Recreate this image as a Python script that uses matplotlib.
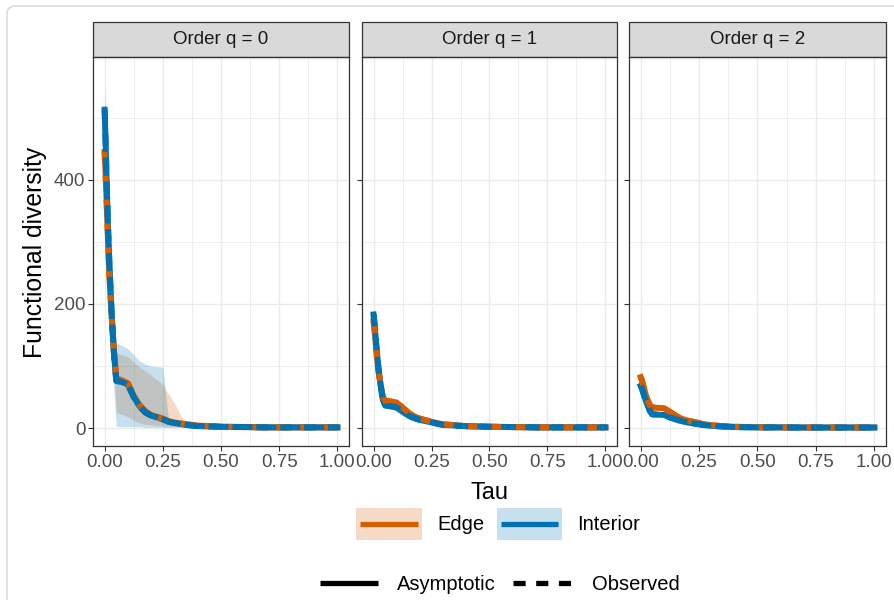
import matplotlib
matplotlib.use('Agg')  # no display in the sandbox

import matplotlib.pyplot as plt
from matplotlib.patches import Rectangle, FancyBboxPatch
from matplotlib.lines import Line2D

plt.rcParams['font.family'] = ['Liberation Sans', 'DejaVu Sans']

# ---- data ----
tau = [0, 0.005, 0.01, 0.015, 0.02, 0.03, 0.04, 0.05, 0.075, 0.1, 0.125, 0.15,
       0.175, 0.2, 0.25, 0.275, 0.3, 0.35, 0.4, 0.5, 0.6, 0.7, 0.8, 0.9, 1.0]
orders = ['Order q = 0', 'Order q = 1', 'Order q = 2']

# q = 0
edge_q0 = [445, 400, 350, 300, 250, 180, 125, 80, 77, 72, 52, 37, 27, 21, 15, 11, 9, 6, 4, 2, 1.5, 1, 1, 1, 1]
edge_q0_lo = [400, 350, 300, 250, 200, 140, 90, 25, 22, 18, 12, 8, 6, 5, 3, 2, 2, 2, 1, 1, 1, 1, 1, 1, 1]
edge_q0_hi = [490, 450, 400, 350, 300, 220, 160, 121, 118, 115, 106, 98, 92, 85, 70, 55, 40, 4, 4, 3, 2, 2, 2, 2, 2]
int_q0 = [513, 450, 380, 320, 270, 185, 120, 76, 74, 70, 50, 35, 25, 20, 14, 10, 8, 5, 3, 2, 1.5, 1, 1, 1, 1]
int_q0_lo = [480, 410, 330, 270, 220, 130, 60, 3, 2, 2, 2, 2, 1, 1, 1, 1, 1, 1, 1, 1, 1, 1, 1, 1, 1]
int_q0_hi = [548, 500, 430, 370, 320, 240, 180, 137, 133, 128, 118, 108, 103, 100, 98, 12, 10, 7, 5, 3, 2, 2, 2, 2, 2]

# q = 1
edge_q1 = [172, 155, 133, 113, 95, 70, 50, 44, 43, 41, 33, 25, 19, 15, 10, 8, 6, 4.5, 3, 2, 1.5, 1, 1, 1, 1]
edge_q1_lo = [160, 145, 124, 105, 88, 64, 45, 40, 39, 37, 30, 22, 17, 13, 9, 7, 5, 4, 2.5, 1.5, 1, 0.8, 0.8, 0.8, 0.8]
edge_q1_hi = [185, 166, 142, 121, 102, 76, 55, 48, 47, 45, 36, 28, 21, 17, 11, 9, 7, 5, 3.5, 2.5, 2, 1.2, 1.2, 1.2, 1.2]
int_q1 = [183, 165, 140, 120, 100, 70, 45, 36, 35, 33, 26, 20, 16, 13, 9, 7, 5, 4, 3, 2, 1.5, 1, 1, 1, 1]
int_q1_lo = [172, 155, 131, 112, 93, 64, 41, 33, 32, 30, 23, 18, 14, 11, 8, 6, 4.5, 3.5, 2.5, 1.5, 1, 0.8, 0.8, 0.8, 0.8]
int_q1_hi = [195, 176, 149, 128, 107, 76, 49, 39, 38, 36, 29, 22, 18, 15, 10, 8, 5.5, 4.5, 3.5, 2.5, 2, 1.2, 1.2, 1.2, 1.2]

# q = 2
edge_q2 = [82, 77, 70, 63, 56, 45, 36, 33, 32.5, 32, 26, 20, 15, 12, 8, 6, 4.5, 3, 2, 1.2, 1, 0.8, 0.8, 0.8, 0.8]
edge_q2_lo = [76, 71, 65, 58, 52, 41, 33, 30, 29.5, 29, 23, 18, 13, 10.5, 7, 5, 4, 2.5, 1.6, 1, 0.8, 0.6, 0.6, 0.6, 0.6]
edge_q2_hi = [88, 83, 75, 68, 60, 49, 39, 36, 35.5, 35, 29, 22, 17, 13.5, 9, 7, 5, 3.5, 2.4, 1.4, 1.2, 1, 1, 1, 1]
int_q2 = [68, 64, 58, 52, 46, 36, 27, 22, 21.5, 21, 17, 14, 11, 9, 6, 4.5, 3.5, 2.5, 1.5, 1, 1, 0.8, 0.8, 0.8, 0.8]
int_q2_lo = [63, 59, 54, 48, 42, 33, 24.5, 20, 19.5, 19, 15, 12.5, 10, 8, 5.3, 4, 3, 2.2, 1.2, 0.8, 0.8, 0.6, 0.6, 0.6, 0.6]
int_q2_hi = [73, 69, 62, 56, 50, 39, 29.5, 24, 23.5, 23, 19, 15.5, 12, 10, 6.7, 5, 4, 2.8, 1.8, 1.2, 1.2, 1, 1, 1, 1]

edge = [(edge_q0, edge_q0_lo, edge_q0_hi), (edge_q1, edge_q1_lo, edge_q1_hi), (edge_q2, edge_q2_lo, edge_q2_hi)]
interior = [(int_q0, int_q0_lo, int_q0_hi), (int_q1, int_q1_lo, int_q1_hi), (int_q2, int_q2_lo, int_q2_hi)]

ORANGE = '#D55E00'
BLUE = '#0072B2'
GRID = '#EBEBEB'
DARK = '#333333'
TICKTXT = '#4D4D4D'

W, H = 895, 600
fig = plt.figure(figsize=(W / 100, H / 100), dpi=100)


def fx(px):
    return px / W


def fy(py):
    return 1 - py / H


# light card border around the whole picture (kept behind everything)
card = FancyBboxPatch((0.07, -0.3), 9.5, 5.94 + 0.3, boxstyle='round,pad=0,rounding_size=0.08',
                      transform=fig.dpi_scale_trans, facecolor='white', edgecolor='#D4D4D4',
                      lw=1.0, zorder=-10)
fig.add_artist(card)

panels = [(93, 349), (362, 617), (629, 886)]
top, bottom = 57, 446
strip_top = 22
lw = 4.3

for i, (l, r) in enumerate(panels):
    ax = fig.add_axes([fx(l), fy(bottom), (r - l) / W, (bottom - top) / H])
    ax.set_xlim(-0.05, 1.05)
    ax.set_ylim(-29, 598)
    ax.set_xticks([0, 0.25, 0.5, 0.75, 1.0])
    ax.set_xticks([0.125, 0.375, 0.625, 0.875], minor=True)
    ax.set_yticks([0, 200, 400])
    ax.set_yticks([100, 300, 500], minor=True)
    ax.set_xticklabels(['0.00', '0.25', '0.50', '0.75', '1.00'])
    ax.grid(True, which='major', color=GRID, lw=1.0)
    ax.grid(True, which='minor', color=GRID, lw=0.6)
    ax.set_axisbelow(True)
    ax.tick_params(which='major', length=3.5, width=0.8, color=DARK, labelcolor=TICKTXT,
                   labelsize=13.5, pad=2)
    ax.tick_params(which='minor', length=0)
    if i > 0:
        ax.tick_params(axis='y', labelleft=False)
    for s in ax.spines.values():
        s.set_color(DARK)
        s.set_linewidth(0.9)

    e, e_lo, e_hi = edge[i]
    n, n_lo, n_hi = interior[i]
    ax.fill_between(tau, e_lo, e_hi, color=ORANGE, alpha=0.22, lw=0)
    ax.fill_between(tau, n_lo, n_hi, color=BLUE, alpha=0.22, lw=0)
    # asymptotic (solid) then observed (dashed) on top
    ax.plot(tau, e, color=ORANGE, lw=lw, solid_joinstyle='round')
    ax.plot(tau, n, color=BLUE, lw=lw, solid_joinstyle='round')
    ax.plot(tau, e, color=ORANGE, lw=lw, linestyle=(0, (2, 2)), dash_capstyle='butt')
    ax.plot(tau, n, color=BLUE, lw=lw, linestyle=(0, (2, 2)), dash_capstyle='butt')

    # facet strip
    sh = (top - strip_top) / (bottom - top)
    ax.add_patch(Rectangle((0, 1), 1, sh, transform=ax.transAxes, clip_on=False,
                           facecolor='#D9D9D9', edgecolor=DARK, lw=0.9))
    ax.text(0.5, 1 + sh / 2, orders[i], transform=ax.transAxes, ha='center', va='center',
            fontsize=13.5, color='#1A1A1A')

fig.text(fx(35), fy(252), 'Functional diversity', rotation=90, ha='center', va='center',
         fontsize=17.8, color='black')
fig.text(fx(490), fy(493), 'Tau', ha='center', va='center', fontsize=17, color='black')

# legend row 1: colour / fill
for (x0, x1, col, lab) in [(356, 422, ORANGE, 'Edge'), (497, 562, BLUE, 'Interior')]:
    fig.add_artist(Rectangle((fx(x0), fy(540)), (x1 - x0) / W, 32 / H, transform=fig.transFigure,
                             facecolor=col, alpha=0.22, lw=0))
    fig.add_artist(Line2D([fx(x0 + 4), fx(x1 - 4)], [fy(524), fy(524)], transform=fig.transFigure,
                          color=col, lw=3.8, solid_capstyle='butt'))
    fig.text(fx(x1 + 15), fy(525), lab, ha='left', va='center', fontsize=14.5, color='black')

# legend row 2: line type
fig.add_artist(Line2D([fx(320), fx(378)], [fy(583), fy(583)], transform=fig.transFigure,
                      color='black', lw=3.8, solid_capstyle='butt'))
fig.text(fx(397), fy(584), 'Asymptotic', ha='left', va='center', fontsize=14.5, color='black')
fig.add_artist(Line2D([fx(513), fx(571)], [fy(583), fy(583)], transform=fig.transFigure,
                      color='black', lw=3.8, linestyle=(0, (2.3, 2.0)), dash_capstyle='butt'))
fig.text(fx(592), fy(584), 'Observed', ha='left', va='center', fontsize=14.5, color='black')

fig.savefig('out.png', dpi=100)
plt.close(fig)
